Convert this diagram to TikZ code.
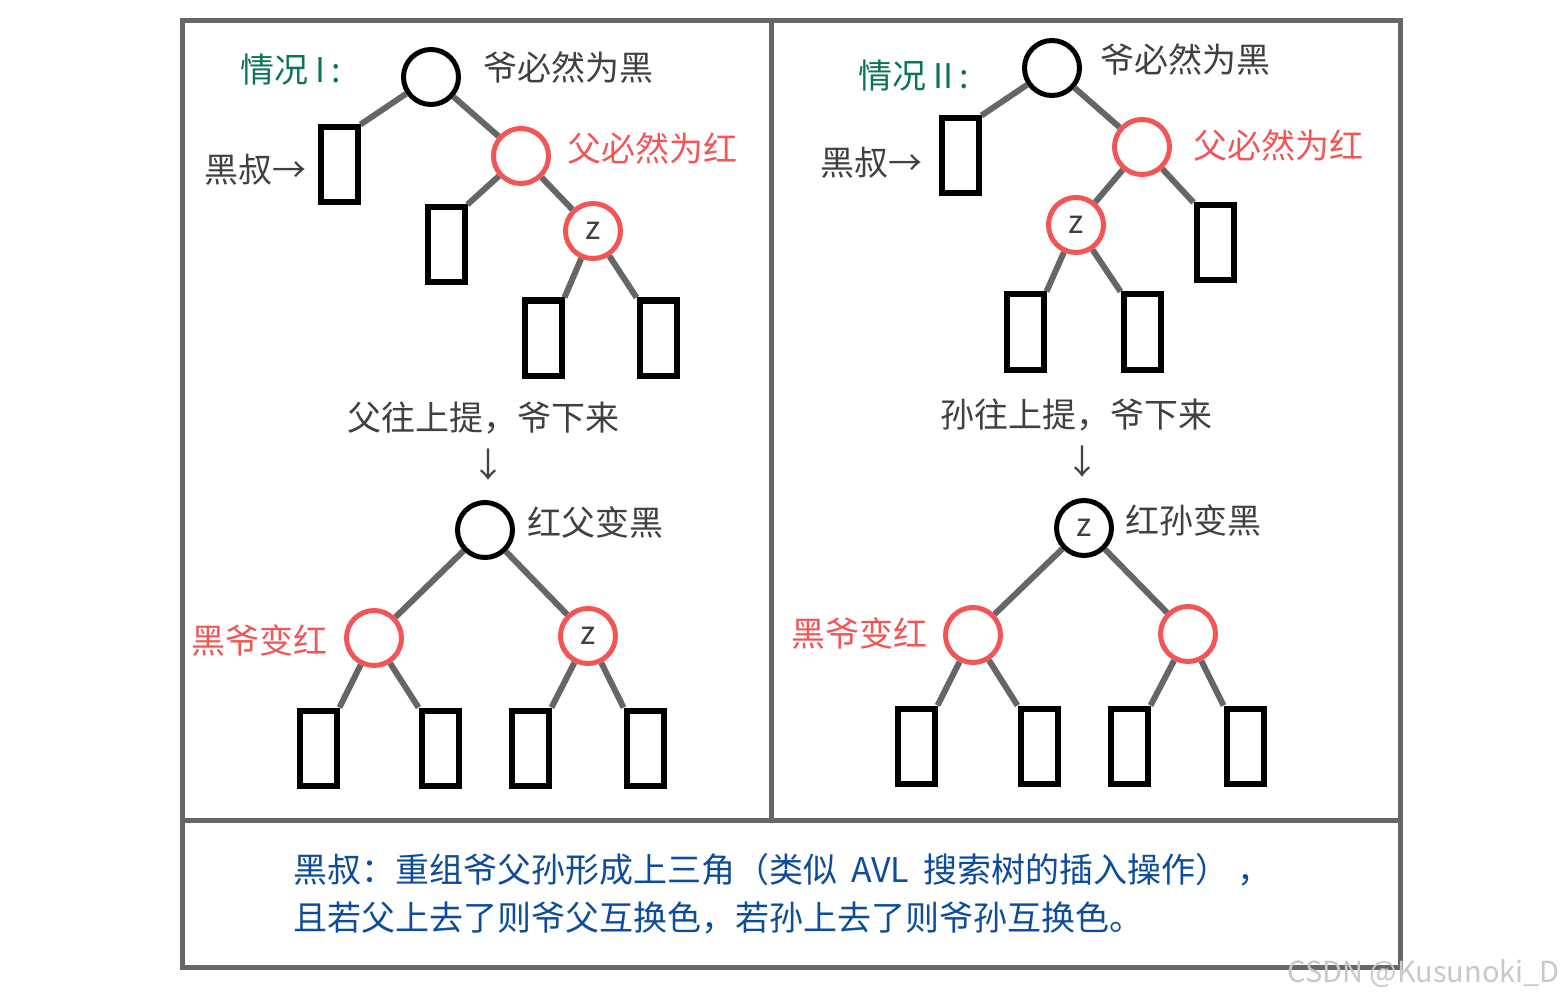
\documentclass[tikz,border=0pt]{standalone}
\usepackage{fontspec}
\setmainfont{Noto Sans CJK SC}
\definecolor{frame}{HTML}{666666}
\definecolor{edgec}{HTML}{666666}
\definecolor{txt}{HTML}{404040}
\definecolor{redc}{HTML}{F25555}
\definecolor{greenc}{HTML}{0B7358}
\definecolor{bluec}{HTML}{0D4C9B}
\definecolor{wm}{HTML}{C8C8C8}
\begin{document}
\begin{tikzpicture}[x=1pt,y=-1pt,
  bk/.style={circle,draw=black,line width=5pt,minimum size=55pt,inner sep=0pt,fill=white,font=\fontsize{32}{34}\selectfont,text=txt},
  rd/.style={bk,draw=redc},
  leaf/.style={rectangle,draw=black,line width=6pt,minimum width=37pt,minimum height=75pt,inner sep=0pt},
  edge/.style={draw=edgec,line width=6pt},
  lbl/.style={anchor=west,inner sep=0pt,text=txt,font=\fontsize{34}{40}\selectfont},
  rlbl/.style={lbl,text=redc},
  glbl/.style={lbl,text=greenc},
  blbl/.style={lbl,text=bluec},
  ctr/.style={lbl,anchor=center}]
\useasboundingbox (0,0) rectangle (1563,1000);
% frame
\draw[frame,line width=5pt] (182,21) rectangle (1400,967);
\draw[frame,line width=5pt] (771,21) -- (771,820);
\draw[frame,line width=5pt] (182,820) -- (1400,820);

% ===== Case I top =====
\node[glbl] (t1) at (240,70) {情况 I\,:};
\node[bk] (g1) at (431,77) {};
\node[lbl] (g1l) at (483,68) {爷必然为黑};
\node[leaf] (u1) at (339,165) {};
\node[lbl,anchor=east] (u1l) at (307,170) {黑叔→};
\node[rd] (p1) at (521,156) {};
\node[rlbl] (p1l) at (567,148) {父必然为红};
\node[leaf] (s1) at (446,245) {};
\node[rd] (z1) at (593,231) {z};
\node[leaf] (a1) at (543,338) {};
\node[leaf] (b1) at (658,338) {};
\draw[edge] (g1) -- (u1.north east);
\draw[edge] (g1) -- (p1);
\draw[edge] (p1) -- (s1.north east);
\draw[edge] (p1) -- (z1);
\draw[edge] (z1) -- (a1.north east);
\draw[edge] (z1) -- (b1.north west);

\node[ctr] (m1) at (483,418) {父往上提，爷下来};
\node[ctr] (ar1) at (488,465) {↓};

% ===== Case I bottom =====
\node[bk] (r1) at (485,530) {};
\node[lbl] (r1l) at (527,522) {红父变黑};
\node[rd] (l1) at (374,638) {};
\node[rlbl,anchor=east] (l1l) at (328,640) {黑爷变红};
\node[rd] (q1) at (588,636) {z};
\node[leaf] (c1) at (318,748) {};
\node[leaf] (d1) at (440,748) {};
\node[leaf] (e1) at (530,748) {};
\node[leaf] (f1) at (645,748) {};
\draw[edge] (r1) -- (l1);
\draw[edge] (r1) -- (q1);
\draw[edge] (l1) -- (c1.north east);
\draw[edge] (l1) -- (d1.north west);
\draw[edge] (q1) -- (e1.north east);
\draw[edge] (q1) -- (f1.north west);

% ===== Case II top =====
\node[glbl] (t2) at (858,76) {情况 II\,:};
\node[bk] (g2) at (1052,68) {};
\node[lbl] (g2l) at (1100,60) {爷必然为黑};
\node[leaf] (u2) at (960,156) {};
\node[lbl,anchor=east] (u2l) at (923,163) {黑叔→};
\node[rd] (p2) at (1142,147) {};
\node[rlbl] (p2l) at (1193,145) {父必然为红};
\node[rd] (z2) at (1076,225) {z};
\node[leaf] (s2) at (1215,243) {};
\node[leaf] (a2) at (1025,332) {};
\node[leaf] (b2) at (1142,332) {};
\draw[edge] (g2) -- (u2.north east);
\draw[edge] (g2) -- (p2);
\draw[edge] (p2) -- (z2);
\draw[edge] (p2) -- (s2.north west);
\draw[edge] (z2) -- (a2.north east);
\draw[edge] (z2) -- (b2.north west);

\node[ctr] (m2) at (1076,415) {孙往上提，爷下来};
\node[ctr] (ar2) at (1082,462) {↓};

% ===== Case II bottom =====
\node[bk] (r2) at (1084,528) {z};
\node[lbl] (r2l) at (1125,520) {红孙变黑};
\node[rd] (l2) at (973,635) {};
\node[rlbl,anchor=east] (l2l) at (928,633) {黑爷变红};
\node[rd] (q2) at (1188,634) {};
\node[leaf] (c2) at (916,746) {};
\node[leaf] (d2) at (1039,746) {};
\node[leaf] (e2) at (1129,746) {};
\node[leaf] (f2) at (1245,746) {};
\draw[edge] (r2) -- (l2);
\draw[edge] (r2) -- (q2);
\draw[edge] (l2) -- (c2.north east);
\draw[edge] (l2) -- (d2.north west);
\draw[edge] (q2) -- (e2.north east);
\draw[edge] (q2) -- (f2.north west);

% ===== bottom note =====
\node[blbl] (n1) at (293,870) {黑叔：重组爷父孙形成上三角（类似\hspace{14pt}AVL\hspace{14pt}搜索树的插入操作）\hspace{8pt}，};
\node[blbl] (n2) at (293,918) {且若父上去了则爷父互换色，若孙上去了则爷孙互换色。};

\node[anchor=east,inner sep=0pt,text=wm,font=\fontsize{29}{32}\selectfont] (wmk) at (1560,973) {CSDN @Kusunoki\_D};
\end{tikzpicture}
\end{document}
